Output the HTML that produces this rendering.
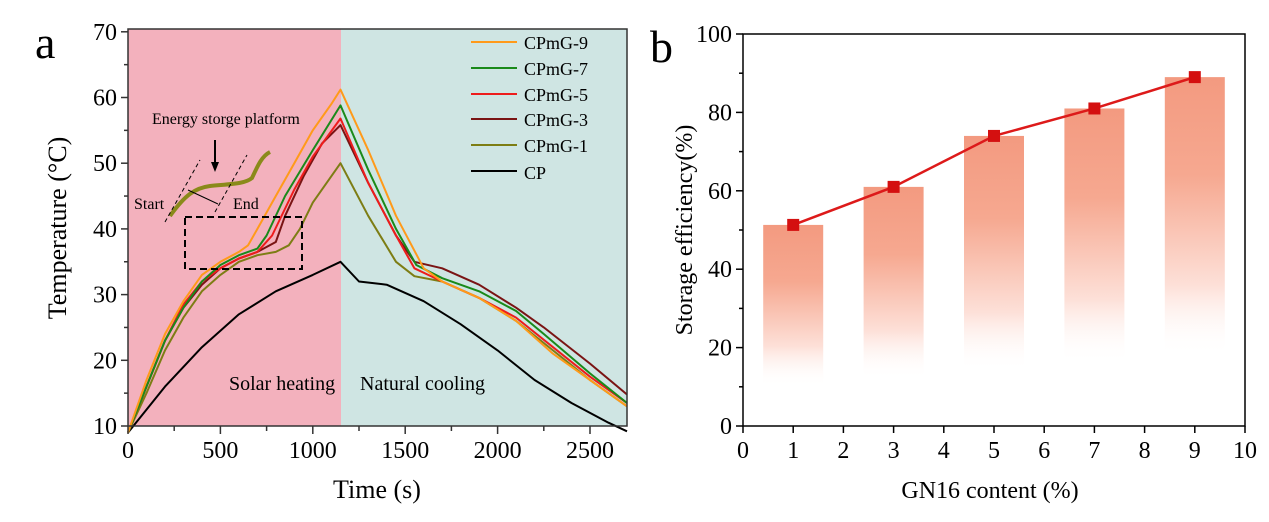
<!DOCTYPE html>
<html><head><meta charset="utf-8"><style>
html,body{margin:0;padding:0;background:#fff;}
svg{display:block;font-family:"Liberation Serif",serif;}
</style></head><body>
<svg id="s" width="1269" height="522" xmlns="http://www.w3.org/2000/svg">
<defs>
<linearGradient id="bg" x1="0" y1="0" x2="0" y2="1">
<stop offset="0" stop-color="#f39a80"/><stop offset="0.35" stop-color="#f6a890"/><stop offset="0.75" stop-color="#fde0d8"/><stop offset="1" stop-color="#fff" stop-opacity="0"/>
</linearGradient>
</defs>
<rect x="128" y="29" width="213" height="397" fill="#f3b1bd"/>
<rect x="341" y="29" width="286" height="397" fill="#cfe5e3"/>
<g id="curves" fill="none" stroke-width="2"></g>
<path d="M170,216 C185,195 195,188 210,186 C230,184 245,184 252,178 C258,165 262,156 270,152" fill="none" stroke="#8a8a1a" stroke-width="4"/>
<line x1="165" y1="222" x2="200" y2="160" stroke="#000" stroke-dasharray="4,3"/>
<line x1="215" y1="212" x2="247" y2="155" stroke="#000" stroke-dasharray="4,3"/>
<line x1="188" y1="190" x2="218" y2="204" stroke="#000"/>
<line x1="215" y1="140" x2="215" y2="168" stroke="#000" stroke-width="2"/>
<path d="M211,162 L215,172 L219,162 Z" fill="#000"/>
<rect x="185" y="217" width="117" height="52" fill="none" stroke="#000" stroke-width="2" stroke-dasharray="7,4"/>
<text x="152" y="124" font-size="16">Energy storge platform</text>
<text x="134" y="209" font-size="16">Start</text>
<text x="233" y="209" font-size="16">End</text>
<text x="229" y="390" font-size="20">Solar heating</text>
<text x="360" y="390" font-size="20">Natural cooling</text>
<g font-size="18">
<line x1="471" y1="42" x2="517" y2="42" stroke="#ff9a1a" stroke-width="2"/><text x="524" y="49">CPmG-9</text>
<line x1="471" y1="68" x2="517" y2="68" stroke="#1a8a1a" stroke-width="2"/><text x="524" y="75">CPmG-7</text>
<line x1="471" y1="94" x2="517" y2="94" stroke="#ee1c1c" stroke-width="2"/><text x="524" y="101">CPmG-5</text>
<line x1="471" y1="119" x2="517" y2="119" stroke="#7a1414" stroke-width="2"/><text x="524" y="126">CPmG-3</text>
<line x1="471" y1="145" x2="517" y2="145" stroke="#7d7d14" stroke-width="2"/><text x="524" y="152">CPmG-1</text>
<line x1="471" y1="171" x2="517" y2="171" stroke="#000" stroke-width="2"/><text x="524" y="179">CP</text>
</g>
<rect x="128" y="29" width="499" height="397" fill="none" stroke="#333" stroke-width="1.5"/>
<g id="axa" font-size="24"></g>
<text x="35" y="58" font-size="46">a</text>
<text x="377" y="498" font-size="26" text-anchor="middle">Time (s)</text>
<text transform="translate(66,228) rotate(-90)" font-size="26" text-anchor="middle">Temperature (°C)</text>
<g id="bars"></g>
<rect x="743" y="34" width="502" height="392" fill="none" stroke="#000" stroke-width="1.5"/>
<g id="axb" font-size="24"></g>
<text x="650" y="62" font-size="46">b</text>
<text x="990" y="498" font-size="24" text-anchor="middle">GN16 content (%)</text>
<text transform="translate(692,230) rotate(-90)" font-size="24" text-anchor="middle">Storage efficiency(%)</text>
</svg>
<script>
var NS="http://www.w3.org/2000/svg";
function el(p,t,a,txt){var e=document.createElementNS(NS,t);for(var k in a)e.setAttribute(k,a[k]);if(txt!==undefined)e.textContent=txt;p.appendChild(e);return e;}
var X=function(t){return 128+t*0.1848;},Y=function(T){return 426-(T-10)*6.57;};
var data=[
["#000",[[0,9],[200,16],[400,22],[600,27],[800,30.5],[1000,33],[1150,35],[1250,32],[1400,31.5],[1600,29],[1800,25.5],[2000,21.5],[2200,17],[2400,13.5],[2600,10.5],[2700,9.2]]],
["#7d7d14",[[0,9],[100,15],[200,21.5],[300,26.5],[400,30.5],[500,33],[600,35],[700,36],[800,36.5],[870,37.5],[930,40],[1000,44],[1150,50],[1300,42],[1450,35],[1550,32.8],[1700,32],[1900,29.5],[2100,26],[2300,21.5],[2500,17],[2700,13]]],
["#7a1414",[[0,9],[100,16],[200,23],[300,28],[400,31.5],[500,34],[600,35.5],[700,36.5],[800,38],[850,42],[950,48],[1050,53],[1150,55.8],[1300,47],[1450,39],[1550,35],[1700,34],[1900,31.5],[2100,28],[2250,25],[2500,19.5],[2700,14.8]]],
["#ee1c1c",[[0,9],[100,16],[200,23],[300,28.5],[400,32],[500,34],[600,35.5],[700,36.5],[780,39],[900,46],[1000,51],[1150,56.8],[1300,47],[1450,39],[1550,34],[1700,32],[1900,29.5],[2100,26.5],[2300,22],[2500,17.5],[2700,13.5]]],
["#1a8a1a",[[0,9],[100,16],[200,23],[300,28],[400,32],[500,34.5],[600,36],[700,37],[750,39],[850,45],[1000,52],[1150,58.8],[1300,49],[1450,40],[1560,34.5],[1700,32.5],[1900,30.5],[2100,27.5],[2250,24],[2500,18],[2700,13.5]]],
["#ff9a1a",[[0,9],[100,17],[200,24],[300,29],[400,33],[500,35],[600,36.5],[650,37.5],[700,40],[800,45],[900,50],[1000,55],[1100,59],[1150,61.2],[1300,52],[1450,42],[1600,34],[1700,32],[1900,29.5],[2100,26],[2300,21],[2500,17],[2700,13]]]];
var g=document.getElementById("curves");
data.forEach(function(d){el(g,"polyline",{points:d[1].map(function(p){return X(p[0]).toFixed(1)+","+Y(p[1]).toFixed(1)}).join(" "),stroke:d[0],"stroke-linejoin":"round"});});
var a=document.getElementById("axa");
for(var t=0;t<=2700;t+=250){var x=X(t);el(a,"line",{x1:x,y1:426,x2:x,y2:t%500?431:434,stroke:"#333","stroke-width":1.5});if(t%500==0)el(a,"text",{x:x,y:458,"text-anchor":"middle"},t);}
for(var T=10;T<=70;T+=5){var y=Y(T);el(a,"line",{x1:128,y1:y,x2:T%10?124:121,y2:y,stroke:"#333","stroke-width":1.5});if(T%10==0)el(a,"text",{x:117,y:y+8,"text-anchor":"end"},T);}
var BX=function(v){return 743+v*50.2;},BY=function(v){return 426-v*3.92;};
var b=document.getElementById("axb"),bars=document.getElementById("bars");
var vals=[[1,51.3,10],[3,61,12],[5,74,14],[7,81,16],[9,89,18]];
vals.forEach(function(v){var x=BX(v[0]);el(bars,"rect",{x:x-30,y:BY(v[1]),width:60,height:BY(v[2])-BY(v[1]),fill:"url(#bg)"});});
el(bars,"polyline",{points:vals.map(function(v){return BX(v[0])+","+BY(v[1])}).join(" "),fill:"none",stroke:"#dd1a1a","stroke-width":2.5});
vals.forEach(function(v){el(bars,"rect",{x:BX(v[0])-6,y:BY(v[1])-6,width:12,height:12,fill:"#d41010"});});
for(var i=0;i<=10;i++){var x=BX(i);el(b,"line",{x1:x,y1:426,x2:x,y2:433,stroke:"#000","stroke-width":1.5});el(b,"text",{x:x,y:458,"text-anchor":"middle"},i);}
for(var v=0;v<=100;v+=10){var y=BY(v);el(b,"line",{x1:743,y1:y,x2:v%20?739:736,y2:y,stroke:"#000","stroke-width":1.5});if(v%20==0)el(b,"text",{x:732,y:y+8,"text-anchor":"end"},v);}
</script>
</body></html>
